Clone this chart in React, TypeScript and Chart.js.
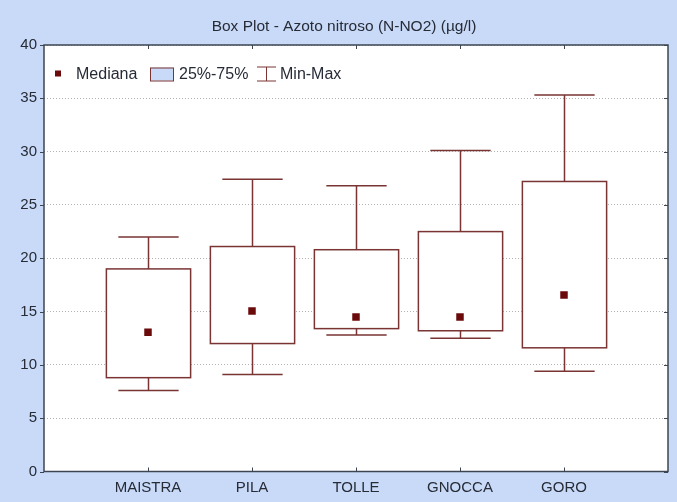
import React, { useEffect, useRef } from "react";
import { Chart, registerables } from "chart.js";

Chart.register(...registerables);

const categories = ["MAISTRA", "PILA", "TOLLE", "GNOCCA", "GORO"];
const minValues = [7.6, 9.1, 12.8, 12.5, 9.4];
const q1Values = [8.8, 12.0, 13.4, 13.2, 11.6];
const medianValues = [13.05, 15.05, 14.5, 14.5, 16.55];
const q3Values = [19.0, 21.1, 20.8, 22.5, 27.2];
const maxValues = [22.0, 27.4, 26.8, 30.1, 35.3];
const yTicks = [0, 5, 10, 15, 20, 25, 30, 35, 40];

const TITLE = "Box Plot - Azoto nitroso (N-NO2) (µg/l)";
const BG = "#c9daf8";
const BOX = "#7a3434";
const MED = "#6b0a0a";
const AXIS = "#3d4552";
const TEXT = "#262b36";
const FONT = "Liberation Sans, Arial, sans-serif";

const boxPlugin = {
  id: "boxPlot",
  beforeDraw(chart: any) {
    const { ctx, chartArea: a, width, height } = chart;
    ctx.save();
    ctx.fillStyle = BG;
    ctx.fillRect(0, 0, width, height);
    ctx.fillStyle = "#ffffff";
    ctx.fillRect(a.left, a.top, a.right - a.left, a.bottom - a.top);
    ctx.restore();
  },
  beforeDatasetsDraw(chart: any) {
    const { ctx } = chart;
    const xs = chart.scales.x;
    const ys = chart.scales.y;
    const unit = xs.getPixelForValue(1) - xs.getPixelForValue(0);
    const halfBox = unit * 0.405;
    const halfCap = unit * 0.29;
    ctx.save();
    ctx.strokeStyle = BOX;
    ctx.lineWidth = 1.5;
    categories.forEach((_, i) => {
      const cx = Math.round(xs.getPixelForValue(i + 1)) + 0.5;
      const yMin = ys.getPixelForValue(minValues[i]);
      const yQ1 = ys.getPixelForValue(q1Values[i]);
      const yQ3 = ys.getPixelForValue(q3Values[i]);
      const yMax = ys.getPixelForValue(maxValues[i]);
      ctx.fillStyle = "#ffffff";
      ctx.fillRect(cx - halfBox, yQ3, halfBox * 2, yQ1 - yQ3);
      ctx.strokeRect(cx - halfBox, yQ3, halfBox * 2, yQ1 - yQ3);
      ctx.beginPath();
      ctx.moveTo(cx, yQ3);
      ctx.lineTo(cx, yMax);
      ctx.moveTo(cx - halfCap, yMax);
      ctx.lineTo(cx + halfCap, yMax);
      ctx.moveTo(cx, yQ1);
      ctx.lineTo(cx, yMin);
      ctx.moveTo(cx - halfCap, yMin);
      ctx.lineTo(cx + halfCap, yMin);
      ctx.stroke();
    });
    ctx.restore();
  },
  afterDraw(chart: any) {
    const { ctx, chartArea: a } = chart;
    const xs = chart.scales.x;
    const ys = chart.scales.y;
    ctx.save();
    // frame
    ctx.strokeStyle = AXIS;
    ctx.lineWidth = 1.5;
    ctx.strokeRect(a.left, a.top, a.right - a.left, a.bottom - a.top);
    // ticks
    ctx.lineWidth = 1;
    ctx.beginPath();
    categories.forEach((_, i) => {
      const x = Math.round(xs.getPixelForValue(i + 1)) + 0.5;
      ctx.moveTo(x, a.top);
      ctx.lineTo(x, a.top + 4);
      ctx.moveTo(x, a.bottom);
      ctx.lineTo(x, a.bottom - 4);
    });
    yTicks.forEach((v) => {
      const y = Math.round(ys.getPixelForValue(v)) + 0.5;
      ctx.moveTo(a.right, y);
      ctx.lineTo(a.right - 4, y);
      ctx.moveTo(a.left, y);
      ctx.lineTo(a.left - 4, y);
    });
    ctx.stroke();

    // legend
    const ly = a.top + 28.5;
    const x0 = a.left;
    ctx.fillStyle = MED;
    ctx.fillRect(x0 + 11, ly - 3, 6, 6);
    ctx.font = "16px " + FONT;
    ctx.textBaseline = "middle";
    ctx.fillStyle = TEXT;
    ctx.fillText("Mediana", x0 + 32, ly + 1);
    const bx = x0 + 106;
    ctx.fillStyle = BG;
    ctx.fillRect(bx, ly - 6, 23, 13);
    ctx.strokeStyle = BOX;
    ctx.lineWidth = 1;
    ctx.strokeRect(bx + 0.5, ly - 5.5, 23, 13);
    ctx.fillStyle = TEXT;
    ctx.fillText("25%-75%", x0 + 135, ly + 1);
    const wx = x0 + 213;
    ctx.beginPath();
    ctx.moveTo(wx, ly - 6.5);
    ctx.lineTo(wx + 19, ly - 6.5);
    ctx.moveTo(wx + 9.5, ly - 6.5);
    ctx.lineTo(wx + 9.5, ly + 7.5);
    ctx.moveTo(wx, ly + 7.5);
    ctx.lineTo(wx + 19, ly + 7.5);
    ctx.stroke();
    ctx.fillText("Min-Max", x0 + 236, ly + 1);
    ctx.restore();
  },
};

export default function App() {
  const ref = useRef<HTMLCanvasElement | null>(null);
  useEffect(() => {
    document.body.style.margin = "0";
    if (!ref.current) return;
    const chart = new Chart(ref.current, {
      type: "scatter",
      data: {
        datasets: [
          {
            label: "Mediana",
            data: medianValues.map((m, i) => ({ x: i + 1, y: m })),
            pointStyle: "rect",
            pointRadius: 5.3,
            pointHoverRadius: 5.3,
            backgroundColor: MED,
            borderColor: MED,
            borderWidth: 0,
          },
        ],
      },
      options: {
        animation: false,
        responsive: false,
        events: [],
        layout: { padding: { left: 20, right: 9, top: 0, bottom: 0 } },
        plugins: {
          legend: { display: false },
          tooltip: { enabled: false },
          title: {
            display: true,
            text: TITLE,
            color: TEXT,
            font: { family: FONT, size: 15.5, weight: "normal" },
            padding: { top: 17, bottom: 9.4 },
          },
        },
        scales: {
          x: {
            type: "linear",
            min: 0,
            max: 6,
            afterFit: (s: any) => {
              s.height = 30.5;
            },
            afterBuildTicks: (s: any) => {
              s.ticks = categories.map((_, i) => ({ value: i + 1 }));
            },
            ticks: {
              autoSkip: false,
              maxRotation: 0,
              padding: 7,
              color: TEXT,
              font: { family: FONT, size: 15 },
              callback: (v: any) => categories[Number(v) - 1] ?? "",
            },
            grid: { display: false, drawTicks: false },
            border: { display: false },
          },
          y: {
            min: 0,
            max: 40,
            afterFit: (s: any) => {
              s.width = 24;
            },
            afterBuildTicks: (s: any) => {
              s.ticks = yTicks.map((v) => ({ value: v }));
            },
            ticks: {
              padding: 7,
              color: TEXT,
              font: { family: FONT, size: 15 },
            },
            grid: {
              color: "#b4b4b4",
              lineWidth: 1,
              drawTicks: false,
            },
            border: { display: false, dash: [1, 2] },
          },
        },
      },
      plugins: [boxPlugin],
    });
    return () => chart.destroy();
  }, []);
  return (
    <div style={{ width: 677, height: 502 }}>
      <canvas ref={ref} width={677} height={502} style={{ display: "block" }} />
    </div>
  );
}
